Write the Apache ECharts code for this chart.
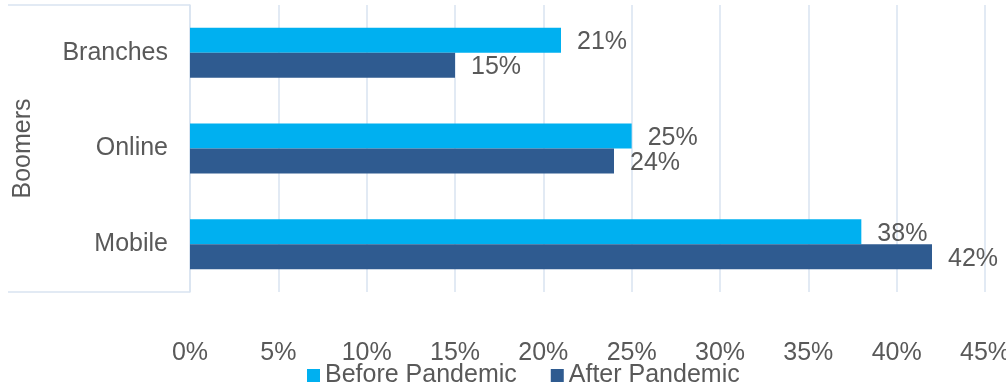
<!DOCTYPE html>
<html><head><meta charset="utf-8">
<script src="https://cdn.jsdelivr.net/npm/echarts@6/dist/echarts.min.js"></script>
<style>html,body{margin:0;padding:0;background:#fff}#c{width:1006px;height:384px}</style>
</head><body><div id="c"></div>
<script>
const categories = ['Mobile', 'Online', 'Branches'];
const groupLabel = 'Boomers';
const seriesNames = ['Before Pandemic', 'After Pandemic'];
const beforeValues = [38, 25, 21];
const afterValues = [42, 24, 15];
const xTicks = { min: 0, max: 45, interval: 5 };

const font = 'Liberation Sans, Arial, sans-serif';
const txt = '#595959';
const gridColor = '#D9E3F1';
const fs = 25;
const chart = echarts.init(document.getElementById('c'), null, { renderer: 'canvas' });
chart.setOption({
  animation: false,
  textStyle: { fontFamily: font },
  grid: { left: 190, right: 21, top: 5, bottom: 92, outerBoundsMode: 'none', containLabel: false },
  legend: {
    data: seriesNames, top: 358, left: 302, itemWidth: 13, itemHeight: 13, itemGap: 34,
    icon: 'rect',
    textStyle: { fontSize: fs, color: txt, fontFamily: font }
  },
  xAxis: {
    type: 'value', min: xTicks.min, max: xTicks.max, interval: xTicks.interval,
    axisLine: { show: false }, axisTick: { show: false },
    splitLine: { show: true, lineStyle: { color: gridColor, width: 1.5 } },
    axisLabel: { formatter: v => v + '%', fontSize: fs, color: txt, margin: 49, fontFamily: font }
  },
  yAxis: {
    type: 'category', data: categories,
    name: groupLabel, nameLocation: 'middle', nameRotate: 90, nameGap: 154,
    nameTextStyle: { fontSize: fs, color: txt, fontFamily: font },
    axisLine: { show: true, lineStyle: { color: gridColor, width: 1.5 } },
    axisTick: { show: false },
    axisLabel: { fontSize: fs, color: txt, margin: 22, fontFamily: font, padding: [3, 0, 0, 0] }
  },
  graphic: [
    { type: 'line', shape: { x1: 8, y1: 5, x2: 190, y2: 5 }, style: { stroke: gridColor, lineWidth: 1.5 } },
    { type: 'line', shape: { x1: 8, y1: 292, x2: 190, y2: 292 }, style: { stroke: gridColor, lineWidth: 1.5 } }
  ],
  series: [
    {
      name: seriesNames[0], type: 'bar', data: beforeValues, barWidth: 25, barGap: '0%',
      itemStyle: { color: '#00B0F0' },
      label: { show: true, position: 'right', distance: 16, formatter: p => p.value + '%', fontSize: fs, color: txt, fontFamily: font, offset: [0, 2] }
    },
    {
      name: seriesNames[1], type: 'bar', data: afterValues, barWidth: 25,
      itemStyle: { color: '#2F5B90' },
      label: { show: true, position: 'right', distance: 16, formatter: p => p.value + '%', fontSize: fs, color: txt, fontFamily: font, offset: [0, 2] }
    }
  ]
});
</script></body></html>
